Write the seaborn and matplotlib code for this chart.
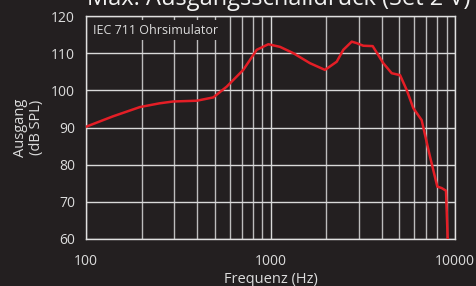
import matplotlib
matplotlib.use("Agg")
import matplotlib.pyplot as plt
import seaborn as sns
import pandas as pd
from matplotlib.ticker import FixedLocator, NullFormatter, LogLocator

# Frequency response values
freq_hz = [100, 140, 196, 250, 297, 398, 490, 579, 712, 842, 973, 1126, 1330, 1637,
           1974, 2285, 2481, 2756, 2932, 3184, 3580, 4087, 4540, 5035, 5472,
           5944, 6595, 7317, 8020, 8470, 8937, 9128]
spl_db = [90.2, 93.0, 95.5, 96.5, 97.0, 97.2, 98.1, 101.0, 105.5, 110.9, 112.4, 111.7,
          110.0, 107.3, 105.5, 107.7, 110.9, 113.1, 112.7, 112.0, 111.9, 107.3,
          104.6, 104.1, 100.1, 95.2, 92.0, 82.2, 74.1, 73.7, 73.0, 60.0]

x_ticks = [100, 1000, 10000]
x_labels = ["100", "1000", "10000"]
y_ticks = [60, 70, 80, 90, 100, 110, 120]

title_text = "Max. Ausgangsschalldruck (Set 2 V)"
note_text = "IEC 711 Ohrsimulator"

bg = "#231f20"
fg = "#dcdcdc"

sns.set_theme(style="dark")
plt.rcParams["font.family"] = ["Open Sans", "DejaVu Sans"]

df = pd.DataFrame({"freq": freq_hz, "spl": spl_db})

fig = plt.figure(figsize=(4.76, 2.86), dpi=100, facecolor=bg)
ax = fig.add_axes([86 / 476, 1 - 239 / 286, (455 - 86) / 476, (239 - 16) / 286])
ax.set_facecolor(bg)

sns.lineplot(data=df, x="freq", y="spl", ax=ax, color="#e41e26", lw=1.8,
             sort=False, zorder=5)

ax.set_xscale("log")
ax.set_xlim(100, 10000)
ax.set_ylim(60, 120)

ax.xaxis.set_major_locator(FixedLocator(x_ticks))
ax.set_xticklabels(x_labels)
ax.xaxis.set_minor_locator(LogLocator(base=10, subs=range(2, 10)))
ax.xaxis.set_minor_formatter(NullFormatter())
ax.set_yticks(y_ticks)

ax.grid(which="major", axis="both", color="#d9d9d9", lw=1.0)
ax.grid(which="minor", axis="x", color="#bdbdbd", lw=1.0)
ax.set_axisbelow(True)

for s in ax.spines.values():
    s.set_visible(True)
    s.set_color("#e0e0e0")
    s.set_linewidth(1.0)

ax.tick_params(axis="both", which="both", length=0, colors=fg, labelsize=10)
ax.tick_params(axis="x", pad=11)
ax.tick_params(axis="y", pad=8)

ax.set_xlabel("Frequenz (Hz)", color=fg, fontsize=10.5, labelpad=2)
ax.set_ylabel("Ausgang\n(dB SPL)", color=fg, fontsize=10.5, labelpad=5,
              linespacing=1.05)

ax.text(0.018, 0.935, note_text, transform=ax.transAxes, color=fg, fontsize=9,
        va="center", ha="left", zorder=6,
        bbox=dict(facecolor=bg, edgecolor="none", pad=2.5))

fig.text(87 / 476, 1 - 5 / 286, title_text, color="#f2f2f2", fontsize=17,
         ha="left", va="baseline")

fig.savefig("out.png", dpi=100, facecolor=bg)
